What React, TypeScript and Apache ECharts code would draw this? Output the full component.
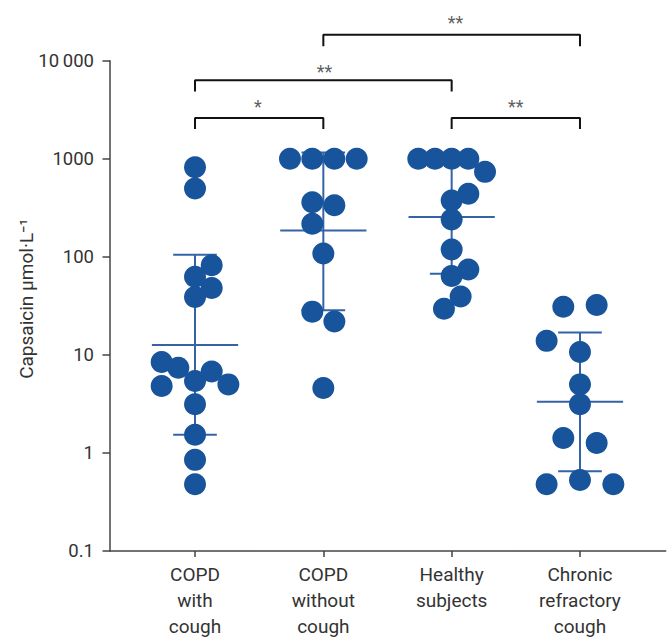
import React, { useEffect, useRef } from "react";
import * as echarts from "echarts";

const categories = ["COPD\nwith\ncough", "COPD\nwithout\ncough", "Healthy\nsubjects", "Chronic\nrefractory\ncough"];

// [group offset, capsaicin value]
const copdWithCough: [number, number][] = [
  [0, 819], [0, 497], [0.13, 82], [0, 62.7], [0.13, 48], [0, 38.9],
  [-0.26, 8.47], [-0.13, 7.4], [0.13, 6.76], [0, 5.42], [-0.26, 4.82], [0.26, 5.0],
  [0, 3.14], [0, 1.53], [0, 0.85], [0, 0.48],
];
const copdWithoutCough: [number, number][] = [
  [-0.26, 1000], [-0.086, 1000], [0.086, 1000], [0.26, 1000],
  [-0.086, 360], [0.086, 336], [-0.086, 217], [0, 108], [-0.086, 27.6], [0.086, 21.9], [0, 4.6],
];
const healthySubjects: [number, number][] = [
  [-0.26, 1000], [-0.13, 1000], [0, 1000], [0.13, 1000], [0.26, 735], [0.13, 439],
  [0, 375], [0, 240], [0, 119], [0.13, 74.4], [0, 63.6], [0.07, 39.3], [-0.06, 29.6],
];
const chronicRefractoryCough: [number, number][] = [
  [-0.13, 31], [0.13, 32.2], [-0.26, 13.9], [0, 10.7], [0, 5.0], [0, 3.14],
  [-0.13, 1.42], [0.13, 1.26], [-0.26, 0.48], [0, 0.53], [0.26, 0.48],
];

// [group, low, median, high]
const errorBars: [number, number, number, number][] = [
  [1, 1.53, 12.6, 105],
  [2, 28.5, 186, 1160],
  [3, 67.3, 254, 1000],
  [4, 0.65, 3.32, 16.9],
];

// [fromGroup, toGroup, barValue, legValue]
const brackets: [number, number, number, number][] = [
  [2, 4, 18400, 14000],
  [1, 3, 6310, 4860],
  [1, 2, 2610, 2010],
  [3, 4, 2610, 2010],
];
// [x, y, text]
const stars: [number, number, string][] = [
  [3.03, 24700, "**"],
  [2.01, 7850, "**"],
  [1.49, 3390, "*"],
  [3.5, 3390, "**"],
];

const yTicks = [0.1, 1, 10, 100, 1000, 10000];

const groups = [copdWithCough, copdWithoutCough, healthySubjects, chronicRefractoryCough];

export default function App() {
  const ref = useRef<HTMLDivElement>(null);
  useEffect(() => {
    if (!ref.current) return;
    const chart = echarts.init(ref.current, null, { renderer: "svg" });
    const pointColor = "#17549c";
    const barColor = "#3463a6";
    const scatterData: number[][] = [];
    groups.forEach((g, i) => g.forEach(([o, v]) => scatterData.push([i + 1 + o, v])));

    const bracketSeries = brackets.map(([a, b, bar, leg]) => ({
      type: "line",
      data: [[a, leg], [a, bar], [b, bar], [b, leg]],
      symbol: "none",
      clip: false,
      silent: true,
      lineStyle: { color: "#111", width: 2 },
      z: 5,
    }));

    chart.setOption({
      animation: false,
      backgroundColor: "#fff",
      grid: { left: 110, right: 6.3, top: 60.7, bottom: 86 },
      xAxis: {
        type: "value",
        min: 0.3375,
        max: 4.668,
        splitLine: { show: false },
        axisLine: { lineStyle: { color: "#444", width: 1.5 } },
        axisTick: { customValues: [1, 2, 3, 4], length: 6, lineStyle: { color: "#444", width: 1.5 } },
        axisLabel: {
          customValues: [1, 2, 3, 4],
          formatter: (v: number) => categories[Math.round(v) - 1] || "",
          color: "#333",
          fontSize: 19,
          lineHeight: 26,
          margin: 10,
          fontFamily: "Roboto",
        },
      },
      yAxis: {
        type: "log",
        logBase: 10,
        min: 0.1,
        max: 10000,
        splitLine: { show: false },
        axisLine: { show: true, lineStyle: { color: "#444", width: 1.5 } },
        axisTick: { length: 7.5, lineStyle: { color: "#444", width: 1.5 } },
        axisLabel: {
          color: "#333",
          fontSize: 18.5,
          margin: 16,
          fontFamily: "Roboto",
          formatter: (v: number) => {
            const t = yTicks.find((k) => Math.abs(Math.log10(k) - Math.log10(v)) < 1e-6);
            if (t === 10000) return "10\u2009000";
            return t !== undefined ? String(t) : "";
          },
        },
        name: "Capsaicin \u03bcmol\u00b7L\u207b\u00b9",
        nameLocation: "middle",
        nameGap: 74,
        nameMoveOverlap: false,
        nameTextStyle: { color: "#333", fontSize: 19, fontFamily: "Roboto", padding: [0, 0, 0, 14] },
      },
      series: [
        {
          type: "custom",
          data: errorBars,
          encode: { x: 0, y: [1, 2, 3] },
          z: 2,
          silent: true,
          renderItem: (params: any, api: any) => {
            const x = api.value(0);
            const low = api.value(1);
            const mid = api.value(2);
            const high = api.value(3);
            const pl = api.coord([x, low]);
            const ph = api.coord([x, high]);
            const capL = api.coord([x - 0.17, low]);
            const capR = api.coord([x + 0.17, low]);
            const capHL = api.coord([x - 0.17, high]);
            const capHR = api.coord([x + 0.17, high]);
            const medL = api.coord([x - 0.336, mid]);
            const medR = api.coord([x + 0.336, mid]);
            const style = { stroke: barColor, lineWidth: 2 };
            return {
              type: "group",
              children: [
                { type: "line", shape: { x1: ph[0], y1: ph[1], x2: pl[0], y2: pl[1] }, style },
                { type: "line", shape: { x1: capHL[0], y1: capHL[1], x2: capHR[0], y2: capHR[1] }, style },
                { type: "line", shape: { x1: capL[0], y1: capL[1], x2: capR[0], y2: capR[1] }, style },
                { type: "line", shape: { x1: medL[0], y1: medL[1], x2: medR[0], y2: medR[1] }, style },
              ],
            };
          },
        },
        {
          type: "scatter",
          data: scatterData,
          symbolSize: 22,
          itemStyle: { color: pointColor, opacity: 1 },
          z: 3,
          silent: true,
        },
        ...bracketSeries,
        {
          type: "scatter",
          data: stars.map(([x, y, t]) => ({ value: [x, y], name: t })),
          symbolSize: 1,
          clip: false,
          itemStyle: { color: "transparent" },
          silent: true,
          label: {
            show: true,
            position: "inside",
            formatter: (p: any) => p.name,
            color: "#333",
            fontSize: 18,
            fontFamily: "Roboto",
          },
          z: 6,
        },
      ],
    });
    return () => chart.dispose();
  }, []);
  return <div ref={ref} style={{ position: "absolute", left: 0, top: 0, width: 672, height: 639 }} />;
}
